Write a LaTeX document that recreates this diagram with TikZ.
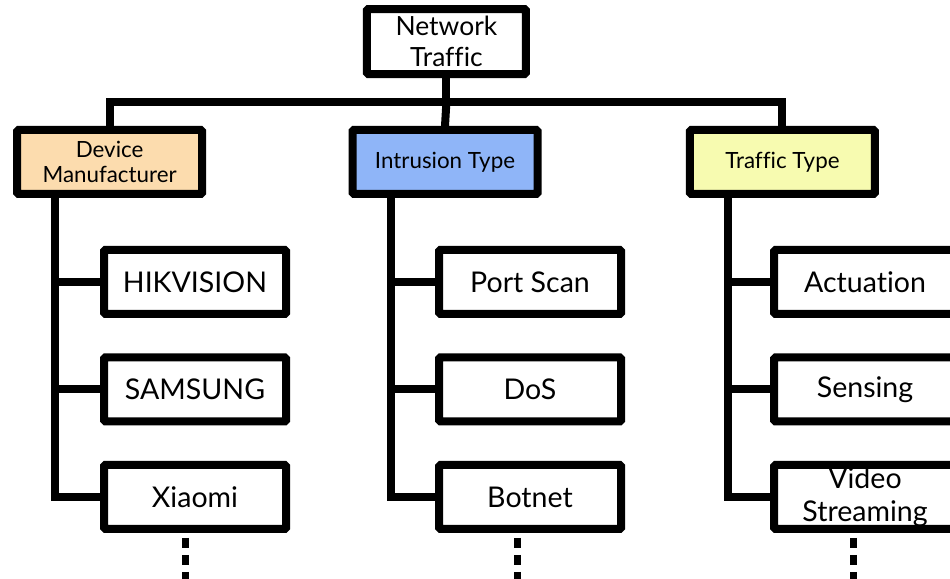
\documentclass[tikz,border=0pt]{standalone}
\usepackage{fontspec}
\setmainfont{Lato}[Ligatures=NoCommon]
\usetikzlibrary{positioning}
\definecolor{devfill}{RGB}{252,220,174}
\definecolor{intrfill}{RGB}{143,181,248}
\definecolor{traffill}{RGB}{247,251,176}
\tikzset{
    node distance=0.8875cm,
    box/.style={
        draw,
        line width=0.2cm,
        rounded corners=1pt,
        fill=white,
        align=center,
        inner sep=0pt
    },
    catbox/.style={
        box,
        minimum width=4.625cm,
        minimum height=1.6cm,
        font=\fontsize{15.9}{17.8}\selectfont
    },
    leaf/.style={
        box,
        minimum width=4.55cm,
        minimum height=1.6cm,
        font=\fontsize{20.3}{23.5}\selectfont
    },
    tree line/.style={
        line width=0.2cm
    },
    more/.style={
        line width=0.175cm,
        dash pattern=on 0.25cm off 0.175cm
    }
}

\begin{document}
\begin{tikzpicture}[root box/.style={box, minimum width=3.975cm, minimum height=1.625cm,
                    font=\fontsize{18.8}{22}\selectfont}]
                    \useasboundingbox (0,0) rectangle (23.75,-14.475);
                    \clip (0,0) rectangle (23.75,-14.475);
                    \node[root box] (root) at (11.16,-1.04) {Network\\Traffic};
                    \node[catbox, fill=devfill] (dev) at (2.74,-4.05) {Device\\Manufacturer};
                    \node[catbox, fill=intrfill] (intr) at (11.125,-4.05) {Intrusion Type};
                    \node[catbox, fill=traffill] (traf) at (19.56,-4.05) {Traffic Type};

                    \node[leaf] (d1) at (4.875,-7.05) {HIKVISION};
                    \node[leaf, below=of d1] (d2) {SAMSUNG};
                    \node[leaf, below=of d2] (d3) {Xiaomi};
                    \node[leaf] (i1) at (13.25,-7.05) {Port Scan};
                    \node[leaf, below=of i1] (i2) {DoS};
                    \node[leaf, below=of i2] (i3) {Botnet};
                    \node[leaf] (t1) at (21.625,-7.05) {Actuation};
                    \node[leaf, below=of t1] (t2) {Sensing};
                    \node[leaf, below=of t2] (t3) {Video\\Streaming};

                    % bus from the root to the three groups
                    \coordinate (bus) at (11.16,-2.55);
                    \draw[tree line] (root) -- (bus);
                    \draw[tree line] (dev.north) |- (bus) -| (traf.north);
                    \draw[tree line] (bus) -- (intr.north);

                    % spines down each group
                    \coordinate (ds) at ([xshift=1.05cm]dev.south west);
                    \coordinate (is) at ([xshift=1.05cm]intr.south west);
                    \coordinate (ts) at ([xshift=1.05cm]traf.south west);
                    \draw[tree line] (ds) |- (d3.west);
                    \draw[tree line] (ds |- d1.west) -- (d1.west);
                    \draw[tree line] (ds |- d2.west) -- (d2.west);
                    \draw[tree line] (is) |- (i3.west);
                    \draw[tree line] (is |- i1.west) -- (i1.west);
                    \draw[tree line] (is |- i2.west) -- (i2.west);
                    \draw[tree line] (ts) |- (t3.west);
                    \draw[tree line] (ts |- t1.west) -- (t1.west);
                    \draw[tree line] (ts |- t2.west) -- (t2.west);

                    % and so on
                    \coordinate (dend) at ([xshift=-0.25cm]d3.south |- 0,-14.6);
                    \coordinate (iend) at ([xshift=-0.325cm]i3.south |- 0,-14.6);
                    \coordinate (tend) at ([xshift=-0.3cm]t3.south |- 0,-14.6);
                    \draw[more] ([xshift=-0.25cm,yshift=-0.12cm]d3.south) -- (dend);
                    \draw[more] ([xshift=-0.325cm,yshift=-0.12cm]i3.south) -- (iend);
                    \draw[more] ([xshift=-0.3cm,yshift=-0.12cm]t3.south) -- (tend);
                \end{tikzpicture}
\end{document}
